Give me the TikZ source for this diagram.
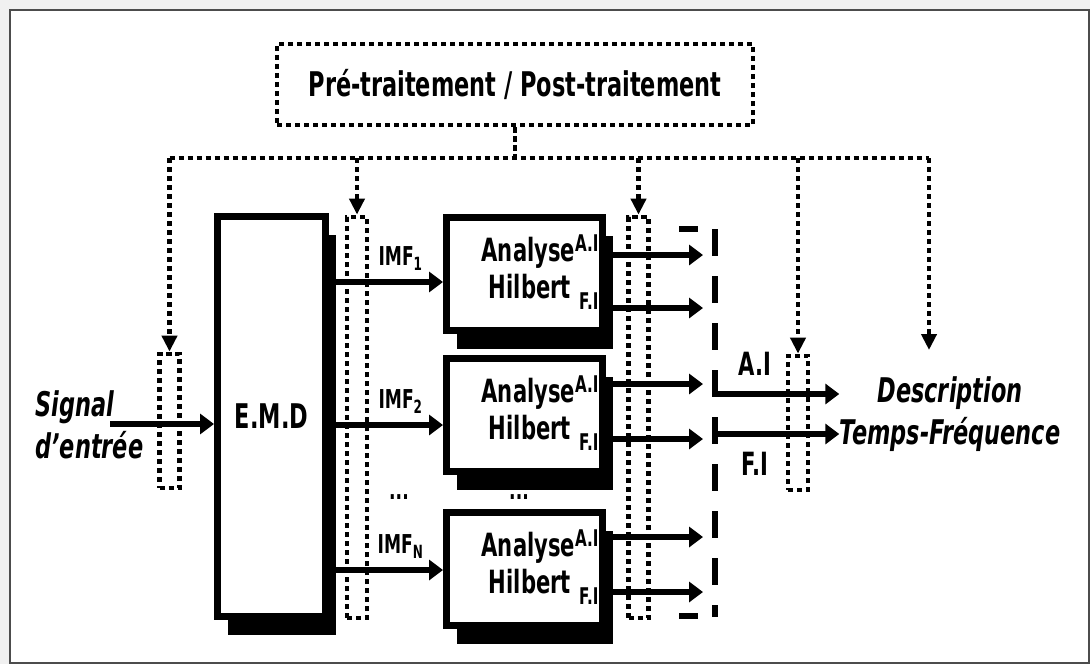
\documentclass[tikz,border=0pt]{standalone}
\usepackage{fontspec}
\setmainfont{DejaVu Sans}[FakeStretch=0.66]
\usetikzlibrary{arrows.meta,shadows,calc}

\newcommand{\tagtxt}[1]{{\fontsize{11.5}{12}\selectfont #1}}

\begin{document}
\begin{tikzpicture}[x=0.5pt,y=-0.5pt,
  every node/.style={font=\bfseries, inner sep=0pt},
  big/.style={font=\bfseries\fontsize{17}{21}\selectfont},
  itl/.style={font=\bfseries\itshape\fontsize{17}{21}\selectfont},
  mid/.style={font=\bfseries\fontsize{16}{22}\selectfont},
  imf/.style={font=\bfseries\fontsize{13}{15}\selectfont},
  flow/.style={line width=2.6pt, -{Triangle[length=7pt,width=10pt]}},
  dotline/.style={line width=2.4pt, dash pattern=on 2.6pt off 1.9pt},
  ctrl/.style={dotline, -{Triangle[length=8pt,width=7.5pt]}},
  block/.style={draw, line width=3.5pt, fill=white,
    drop shadow={shadow xshift=5pt, shadow yshift=-9pt, fill=black, opacity=1}},
  tapbox/.style={draw, dotline, minimum width=10pt},
  bracket/.style={line width=3pt}]
  \useasboundingbox (0,0) rectangle (1090,664);
  \fill[gray!12] (0,0) rectangle (1090,664);
  \filldraw[fill=white, draw=black!70, line width=1pt] (10,10) rectangle (1089,663);

  % Pre/post-processing block
  \node[big, draw, dotline, minimum width=238pt, minimum height=40.5pt] (pre) at (515,84.5) {Pré-traitement / Post-traitement};

  % Decomposition and Hilbert blocks
  \node[block, big, minimum width=54pt, minimum height=200pt] (emd) at (271.5,416.5) {E.M.D};
  \foreach \n/\yt in {1/214,2/355,3/509}{
    \node[block, minimum width=78pt, minimum height=56.5pt] (h\n) at (524.5,\yt+60) {};
    \node[mid, anchor=base east] (an\n) at ($(h\n.north east)+(-7,47)$) {Analyse\raisebox{5pt}{\tagtxt{A.I}}};
    \node[mid, anchor=base east] (hb\n) at ($(h\n.north east)+(-7,84)$) {Hilbert\hspace{4pt}\raisebox{-5.5pt}{\tagtxt{F.I}}};
  }

  % Dotted tap boxes
  \node[tapbox, minimum height=67pt] (r1) at (169.5,421) {};
  \node[tapbox, minimum height=200.5pt] (r2) at (357,417.5) {};
  \node[tapbox, minimum height=200.5pt] (r3) at (638.5,417.5) {};
  \node[tapbox, minimum height=67pt] (r4) at (798,423) {};

  % Input / output texts
  \node[itl, align=left, anchor=west] (sig) at (35,425) {Signal\\d’entrée};
  \node[itl, align=center] (desc) at (950,414) {Description\\Temps-Fréquence};
  \node[imf] (dots1) at (399,497) {...};
  \node[imf] (dots2) at (519,497) {...};

  % Control bus
  \coordinate (bus) at (pre.south |- 0,158);
  \coordinate (busR) at (929,158);
  \coordinate (descin) at (929,350);
  \draw[dotline] (pre.south) -- (bus);
  \draw[dotline] (r1.north |- bus) -- (busR);
  \foreach \t in {r1,r2,r3,r4}
    \draw[ctrl] (\t.north |- bus) -- (\t.north);
  \draw[ctrl] (busR) -- (descin);

  % Signal flow
  \coordinate (in) at (110,424);
  \draw[flow] (in) -- (emd.west |- in);
  \foreach \n/\y/\s in {1/282/1,2/425/2,3/570/N}
    \draw[flow] (emd.east |- 0,\y) -- (h\n.west |- 0,\y) node[imf, pos=.63, above=4.5pt] (imf\n) {IMF\textsubscript{\s}};

  % Hilbert outputs into the bracket
  \coordinate (brk) at (715,229);
  \foreach \n/\ya/\yf in {1/255/308,2/384/439,3/537/592}{
    \draw[flow, shorten >=6pt] (h\n.east |- 0,\ya) -- (brk |- 0,\ya);
    \draw[flow, shorten >=6pt] (h\n.east |- 0,\yf) -- (brk |- 0,\yf);
  }
  \draw[bracket] (679,229) -- (698,229);
  \draw[bracket, dash pattern=on 13.5pt off 10pt] (brk) -- (715,617);
  \draw[bracket] (679,616) -- (698,616);

  % Time-frequency outputs
  \draw[flow] (brk |- 0,394) -- (desc.west |- 0,394) node[mid, pos=.32, above=8pt] (ai) {A.I};
  \draw[flow] (brk |- 0,434) -- (desc.west |- 0,434) node[mid, pos=.32, below=8pt] (fi) {F.I};
\end{tikzpicture}
\end{document}
